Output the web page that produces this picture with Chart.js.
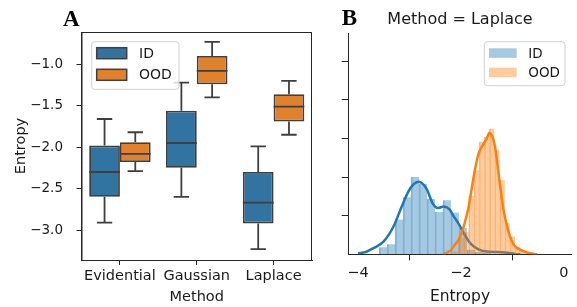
<!DOCTYPE html>
<html>
<head>
<meta charset="utf-8">
<script src="https://cdn.jsdelivr.net/npm/chart.js@4"></script>
<style>
    html, body { margin: 0; padding: 0; background: #fff; }
    #wrap { position: relative; width: 577px; height: 307px; }
    #boxChart { position: absolute; left: 0; top: 0; }
    #histChart { position: absolute; left: 320px; top: 0; }
</style>
</head>
<body>
<div id="wrap">
    <canvas id="boxChart" width="320" height="307"></canvas>
    <canvas id="histChart" width="257" height="307"></canvas>
</div>
<script>
// ---- panel A: entropy box plots per method
const methods = ['Evidential', 'Gaussian', 'Laplace'];

const idLow    = [-2.91, -2.60, -3.23];
const idQ1     = [-2.60, -2.25, -2.92];
const idMedian = [-2.30, -1.95, -2.67];
const idQ3     = [-1.98, -1.56, -2.30];
const idHigh   = [-1.66, -1.22, -1.99];

const oodLow    = [-2.29, -1.40, -1.85];
const oodQ1     = [-2.18, -1.24, -1.69];
const oodMedian = [-2.08, -1.08, -1.51];
const oodQ3     = [-1.94, -0.90, -1.36];
const oodHigh   = [-1.82, -0.73, -1.20];

const entropyTicks = [-3.0, -2.5, -2.0, -1.5, -1.0];

// ---- panel B: Laplace, histogram (density) + kde
const idBinEdges = [-3.59, -3.435, -3.28, -3.125, -2.97, -2.815, -2.66, -2.505, -2.35, -2.195, -2.04, -1.885, -1.73, -1.575, -1.42];
const idDensity  = [0.09, 0.13, 0.45, 0.74, 1.00, 0.91, 0.72, 0.55, 0.70, 0.54, 0.34, 0.06, 0.03, 0.02];

const oodBinEdges = [-2.15, -2.05, -1.95, -1.85, -1.75, -1.65, -1.55, -1.45, -1.35, -1.25, -1.15, -1.05, -0.95, -0.85, -0.75, -0.65, -0.55];
const oodDensity  = [0.04, 0.21, 0.29, 0.76, 1.09, 1.46, 1.52, 1.63, 1.35, 0.96, 0.41, 0.23, 0.10, 0.05, 0.03, 0.02];

const idKdeX = [-4.0, -3.85, -3.70, -3.51, -3.31, -3.15, -2.99, -2.82, -2.67, -2.55, -2.45, -2.33, -2.22, -2.15, -2.05, -1.95, -1.85, -1.75, -1.65, -1.50, -1.30, -1.10, -0.95, -0.85];
const idKdeY = [0.01, 0.03, 0.08, 0.16, 0.36, 0.62, 0.85, 0.94, 0.85, 0.66, 0.60, 0.62, 0.58, 0.50, 0.40, 0.28, 0.17, 0.10, 0.06, 0.035, 0.03, 0.02, 0.005, 0.0];

const oodKdeX = [-2.35, -2.28, -2.20, -2.12, -2.02, -1.93, -1.85, -1.76, -1.66, -1.57, -1.50, -1.45, -1.40, -1.34, -1.28, -1.18, -1.08, -0.98, -0.85, -0.70, -0.52];
const oodKdeY = [0.0, 0.02, 0.05, 0.12, 0.22, 0.40, 0.62, 0.98, 1.30, 1.42, 1.50, 1.57, 1.54, 1.40, 1.10, 0.60, 0.30, 0.13, 0.06, 0.02, 0.0];

const histXTicks = [-4, -2, 0];
const histYTicks = [0.5, 1.0, 1.5, 2.0, 2.5];

const boxBlue = '#3274a1';
const boxOrange = '#e1812c';
const boxEdge = '#3f3f3f';
const spine = '#262626';
const font = 'DejaVu Sans';

const minusFmt = (v, digits) => (v < 0 ? '\u2212' : '') + Math.abs(v).toFixed(digits);

const toBars = (edges, dens) => dens.map((d, i) => ({ x: (edges[i] + edges[i + 1]) / 2, y: d }));
const toPoints = (xs, ys) => xs.map((x, i) => ({ x: x, y: ys[i] }));

// legend box drawn inside the plot area
const drawLegend = (chart, o) => {
    const { ctx, chartArea } = chart;
    const left = o.fromRight ? chartArea.right - o.dx - o.w : chartArea.left + o.dx;
    const top = chartArea.top + o.dy;
    ctx.save();
    ctx.beginPath();
    ctx.roundRect(left, top, o.w, o.h, 3);
    ctx.fillStyle = 'rgba(255,255,255,0.8)';
    ctx.fill();
    ctx.strokeStyle = 'rgba(204,204,204,0.9)';
    ctx.lineWidth = 1;
    ctx.stroke();
    ctx.font = o.font;
    ctx.textBaseline = 'middle';
    o.items.forEach((idx, i) => {
        const ds = chart.data.datasets[idx];
        const py = top + o.patchTop + i * o.gap;
        ctx.fillStyle = ds.backgroundColor;
        ctx.fillRect(left + o.patchLeft, py, o.patchW, o.patchH);
        if (o.edge) {
            ctx.strokeStyle = o.edge;
            ctx.lineWidth = 1.5;
            ctx.strokeRect(left + o.patchLeft, py, o.patchW, o.patchH);
        }
        ctx.fillStyle = '#1a1a1a';
        ctx.fillText(ds.label, left + o.textLeft, py + o.patchH / 2 + 1);
    });
    ctx.restore();
};

const panelLetter = (ctx, text, x, y) => {
    ctx.save();
    ctx.font = 'bold 23px "Liberation Serif"';
    ctx.fillStyle = '#000';
    ctx.textBaseline = 'alphabetic';
    ctx.fillText(text, x, y);
    ctx.restore();
};

// whiskers, caps and medians on top of the floating bars
const boxPlotPlugin = {
    id: 'boxParts',
    afterDatasetsDraw(chart) {
        const { ctx } = chart;
        const y = chart.scales.y;
        chart.data.datasets.forEach((ds, d) => {
            const meta = chart.getDatasetMeta(d);
            meta.data.forEach((bar, i) => {
                const { x, width } = bar.getProps(['x', 'width'], true);
                ctx.save();
                ctx.strokeStyle = boxEdge;
                ctx.lineWidth = 1.8;
                ctx.beginPath();
                ctx.moveTo(x, y.getPixelForValue(ds.q3[i]));
                ctx.lineTo(x, y.getPixelForValue(ds.high[i]));
                ctx.moveTo(x, y.getPixelForValue(ds.q1[i]));
                ctx.lineTo(x, y.getPixelForValue(ds.low[i]));
                ctx.moveTo(x - width / 4, y.getPixelForValue(ds.high[i]));
                ctx.lineTo(x + width / 4, y.getPixelForValue(ds.high[i]));
                ctx.moveTo(x - width / 4, y.getPixelForValue(ds.low[i]));
                ctx.lineTo(x + width / 4, y.getPixelForValue(ds.low[i]));
                ctx.moveTo(x - width / 2, y.getPixelForValue(ds.median[i]));
                ctx.lineTo(x + width / 2, y.getPixelForValue(ds.median[i]));
                ctx.stroke();
                ctx.restore();
            });
        });
    },
    afterDraw(chart) {
        const { ctx, chartArea } = chart;
        ctx.save();
        ctx.strokeStyle = spine;
        ctx.lineWidth = 1;
        ctx.strokeRect(chartArea.left + 0.5, chartArea.top + 0.5, chartArea.width - 1, chartArea.height);
        ctx.restore();
        drawLegend(chart, {
            dx: 10.2, dy: 9.7, w: 87.3, h: 47.6,
            patchLeft: 5, patchTop: 6, patchW: 30, patchH: 11, gap: 21.6, textLeft: 47.3,
            font: '14px "' + font + '"', edge: boxEdge, items: [0, 1]
        });
        panelLetter(ctx, 'A', chartArea.left - 18.5, 26);
    }
};

const histPlugin = {
    id: 'histExtras',
    afterDraw(chart) {
        const { ctx, chartArea } = chart;
        drawLegend(chart, {
            fromRight: true, dx: 6.7, dy: 8.7, w: 80.7, h: 44,
            patchLeft: 4.7, patchTop: 6.6, patchW: 27.7, patchH: 9.5, gap: 19.4, textLeft: 44,
            font: '13.5px "' + font + '"', items: [0, 2]
        });
        panelLetter(ctx, 'B', chartArea.left - 6.6, 25);
    }
};

const configBox = {
    type: 'bar',
    data: {
        labels: methods,
        datasets: [{
            label: 'ID',
            data: idQ1.map((q, i) => [q, idQ3[i]]),
            low: idLow, q1: idQ1, median: idMedian, q3: idQ3, high: idHigh,
            backgroundColor: boxBlue,
            borderColor: boxEdge,
            borderWidth: 1.8,
            borderSkipped: false
        }, {
            label: 'OOD',
            data: oodQ1.map((q, i) => [q, oodQ3[i]]),
            low: oodLow, q1: oodQ1, median: oodMedian, q3: oodQ3, high: oodHigh,
            backgroundColor: boxOrange,
            borderColor: boxEdge,
            borderWidth: 1.8,
            borderSkipped: false
        }]
    },
    options: {
        responsive: false,
        animation: false,
        categoryPercentage: 0.8,
        barPercentage: 1.0,
        layout: { padding: { left: 0, right: 8, top: 32, bottom: 0 } },
        scales: {
            x: {
                offset: true,
                grid: { display: true, drawOnChartArea: false, offset: false, tickLength: 5, color: spine },
                border: { display: true, color: spine },
                ticks: { color: '#1a1a1a', padding: 3, autoSkip: false, maxRotation: 0, minRotation: 0, font: { family: font, size: 14.5 } },
                title: { display: true, text: 'Method', color: '#1a1a1a', padding: { top: 0, bottom: 1.2 }, font: { family: font, size: 14.5 } },
                afterFit: (scale) => { scale.height = 47; }
            },
            y: {
                min: -3.362,
                max: -0.61,
                afterBuildTicks: (axis) => { axis.ticks = entropyTicks.map(v => ({ value: v })); },
                grid: { display: true, drawOnChartArea: false, tickLength: 5, color: spine },
                border: { display: true, color: spine },
                ticks: { color: '#1a1a1a', padding: 13.5, font: { family: font, size: 13.5 }, callback: (v) => minusFmt(v, 1) },
                title: { display: true, text: 'Entropy', color: '#1a1a1a', padding: { top: 12.8, bottom: 0 }, font: { family: font, size: 14.5 } },
                afterFit: (scale) => { scale.width = 81.5; }
            }
        },
        plugins: {
            legend: { display: false },
            tooltip: { enabled: false }
        }
    },
    plugins: [boxPlotPlugin]
};

const configHist = {
    type: 'line',
    data: {
        datasets: [{
            label: 'ID',
            type: 'bar',
            data: toBars(idBinEdges, idDensity),
            xAxisID: 'x',
            backgroundColor: 'rgba(31,119,180,0.4)',
            borderColor: 'rgba(31,119,180,0.5)',
            borderWidth: { left: 1, right: 0, top: 0, bottom: 0 },
            borderSkipped: false,
            categoryPercentage: 1.0,
            barPercentage: 1.0,
            grouped: false,
            order: 4
        }, {
            label: 'ID kde',
            data: toPoints(idKdeX, idKdeY),
            borderColor: '#1f77b4',
            borderWidth: 2.5,
            pointRadius: 0,
            fill: false,
            cubicInterpolationMode: 'monotone',
            order: 3
        }, {
            label: 'OOD',
            type: 'bar',
            data: toBars(oodBinEdges, oodDensity),
            xAxisID: 'x2',
            backgroundColor: 'rgba(255,127,14,0.4)',
            borderColor: 'rgba(255,127,14,0.48)',
            borderWidth: { left: 1, right: 0, top: 0, bottom: 0 },
            borderSkipped: false,
            categoryPercentage: 1.0,
            barPercentage: 1.0,
            grouped: false,
            order: 2
        }, {
            label: 'OOD kde',
            data: toPoints(oodKdeX, oodKdeY),
            borderColor: '#ff7f0e',
            borderWidth: 2.5,
            pointRadius: 0,
            fill: false,
            cubicInterpolationMode: 'monotone',
            order: 1
        }]
    },
    options: {
        responsive: false,
        animation: false,
        layout: { padding: { left: 0, right: 5.3, top: 0, bottom: 0 } },
        scales: {
            x: {
                type: 'linear',
                min: -4.188,
                max: 0.15,
                offset: false,
                afterBuildTicks: (axis) => { axis.ticks = histXTicks.map(v => ({ value: v })); },
                grid: { display: true, drawOnChartArea: false, tickLength: 6, color: spine },
                border: { display: true, color: spine },
                ticks: { color: '#1a1a1a', padding: 4.3, maxRotation: 0, font: { family: font, size: 14.5 }, callback: (v) => minusFmt(v, 0) },
                title: { display: true, text: 'Entropy', color: '#1a1a1a', padding: { top: 0, bottom: 0.7 }, font: { family: font, size: 15.5 } },
                afterFit: (scale) => { scale.height = 52.7; }
            },
            x2: {
                type: 'linear',
                display: false,
                min: -4.188,
                max: 0.15,
                offset: false
            },
            y: {
                min: 0,
                max: 2.867,
                afterBuildTicks: (axis) => { axis.ticks = histYTicks.map(v => ({ value: v })); },
                grid: { display: true, drawOnChartArea: false, tickLength: 6.6, color: spine },
                border: { display: true, color: spine },
                ticks: { callback: () => '', padding: 0 },
                afterFit: (scale) => { scale.width = 28.3; }
            }
        },
        plugins: {
            legend: { display: false },
            tooltip: { enabled: false },
            title: {
                display: true,
                fullSize: false,
                text: 'Method = Laplace',
                color: '#1a1a1a',
                font: { family: font, size: 16, weight: 'normal' },
                padding: { top: 10.4, bottom: 3.4 }
            }
        }
    },
    plugins: [histPlugin]
};

const chartBox = new Chart(
    document.getElementById('boxChart'),
    configBox
);
const chartHist = new Chart(
    document.getElementById('histChart'),
    configHist
);
</script>
</body>
</html>
